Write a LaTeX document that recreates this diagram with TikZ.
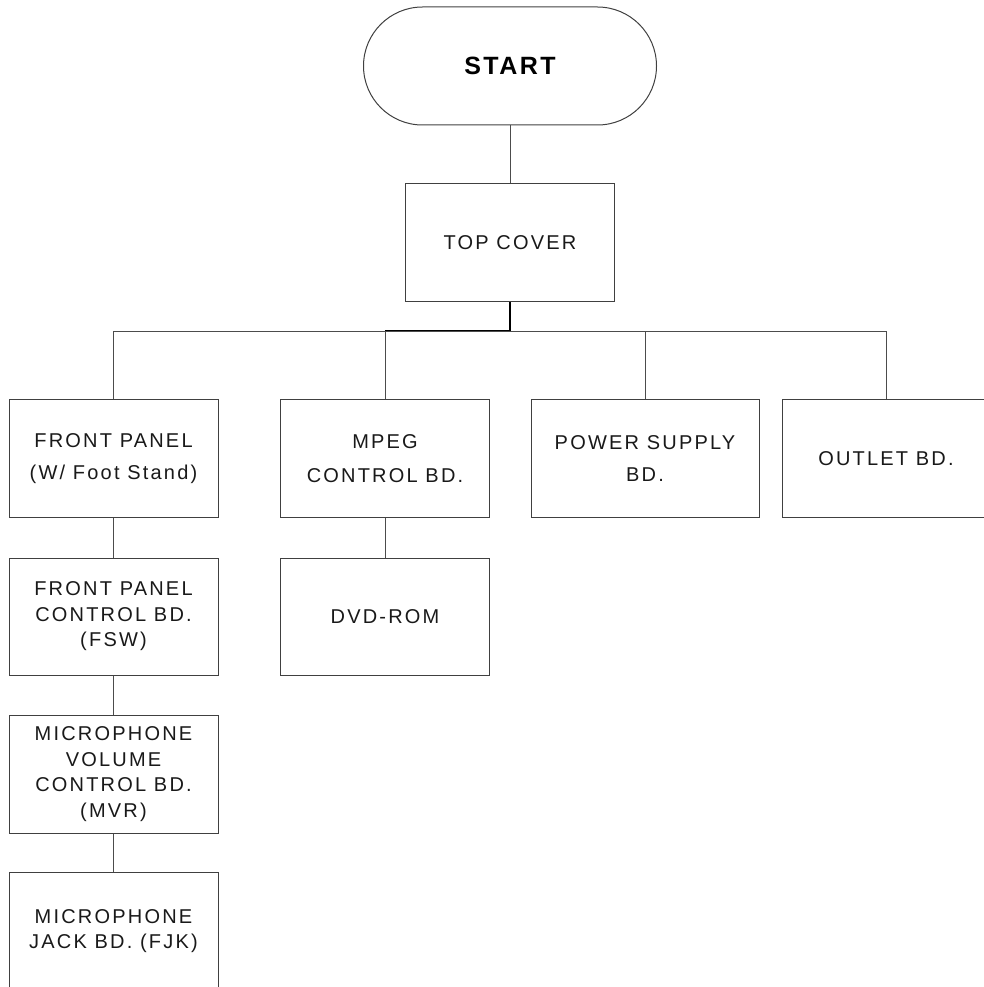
\documentclass[tikz,border=0pt]{standalone}
\usepackage{fontspec}
\newfontfamily\boxfont{Liberation Sans}[LetterSpace=11]
\newfontfamily\startfont{Liberation Sans}[LetterSpace=10]
\begin{document}
\begin{tikzpicture}[x=1pt,y=-1pt,
  box/.style={draw=black!75, line width=1pt, minimum width=209pt, minimum height=118pt,
    inner sep=0pt, align=center, font=\boxfont\fontsize{20}{25.5}\selectfont, text=black!90},
  conn/.style={draw=black!70, line width=1pt},
  stem/.style={draw=black, line width=1.8pt}]
\useasboundingbox (0,0) rectangle (984,987);
\node[draw=black!75, line width=1pt, rounded corners=59pt, minimum width=293pt, minimum height=118pt,
  font=\startfont\bfseries\fontsize{25}{30}\selectfont] (start) at (510,66) {START};
\node[box] (top) at (510,242.5) {TOP COVER};
\node[box] (fp) at (113.5,458.5) {FRONT PANEL\\[7pt](W/ Foot Stand)};
\node[box] (mpeg) at (385,458.5) {MPEG\\[8pt]CONTROL BD.};
\node[box, minimum width=228pt] (psu) at (645,458.5) {POWER SUPPLY\\[7pt]BD.};
\node[box, minimum width=208pt] (outlet) at (886,458.5) {OUTLET BD.};
\node[box, minimum height=117pt] (fpc) at (113.5,616.5) {FRONT PANEL\\CONTROL BD.\\(FSW)};
\node[box, minimum height=117pt] (dvd) at (385,616.5) {DVD-ROM};
\node[box] (mvr) at (113.5,774) {MICROPHONE\\VOLUME\\CONTROL BD.\\(MVR)};
\node[box] (fjk) at (113.5,931) {MICROPHONE\\JACK BD. (FJK)};
\coordinate (bus) at (510,331);
\draw[conn] (start) -- (top);
\draw[stem] (top) -- (bus);
\draw[stem] (bus) -- (385,331);
\draw[conn] (bus) -| (fp.north);
\draw[conn] (bus) -| (mpeg.north);
\draw[conn] (bus) -| (psu.north);
\draw[conn] (bus) -| (outlet.north);
\draw[conn] (fp) -- (fpc);
\draw[conn] (fpc) -- (mvr);
\draw[conn] (mvr) -- (fjk);
\draw[conn] (mpeg) -- (dvd);
\end{tikzpicture}
\end{document}
